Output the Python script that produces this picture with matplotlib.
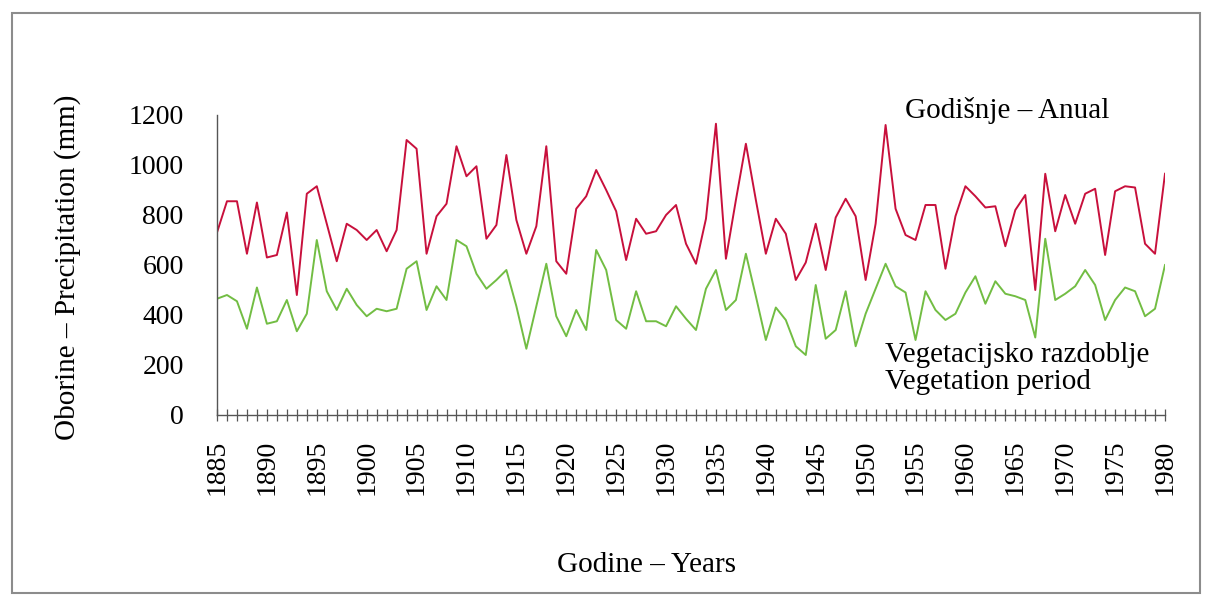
import matplotlib
matplotlib.use("Agg")
import matplotlib.pyplot as plt
from matplotlib.ticker import MultipleLocator, FixedLocator
from matplotlib.patches import Rectangle

plt.rcParams['font.family'] = ['Liberation Serif', 'DejaVu Serif']

years = list(range(1885, 1981))

annual = [730, 855, 855, 645, 850, 630, 640, 810,
          480, 885, 915, 765, 615, 765, 740, 700, 740, 655, 740, 1100,
          1065, 645, 795, 845, 1075, 955, 995, 705, 760, 1040,
          780, 645, 755, 1075, 615, 565, 825, 875,
          980, 900, 815, 620, 785, 725, 735, 800, 840, 685, 605, 785,
          1165, 625, 860, 1085, 860, 645, 785, 725, 540, 610,
          765, 580, 790, 865, 795, 540, 765, 1160, 825, 720, 700, 840,
          840, 585, 795,
          915, 875, 830, 835, 675, 820, 880, 500, 965, 735, 880, 765,
          885, 905, 640, 895, 915, 910, 685, 645, 965]

vegetation = [465, 480, 455, 345, 510, 365, 375, 460,
              335, 405, 700, 495, 420, 505, 440, 395, 425, 415, 425, 585,
              615, 420, 515, 460, 700, 675, 565, 505, 540, 580,
              435, 265, 435, 605, 395, 315, 420, 340,
              660, 580, 380, 345, 495, 375, 375, 355, 435, 385, 340, 505,
              580, 420, 460, 645, 475, 300, 430, 380, 275, 240,
              520, 305, 340, 495, 275, 405, 505, 605, 515, 490, 300, 495,
              420, 380, 405,
              490, 555, 445, 535, 485, 475, 460, 310, 705, 460, 485, 515,
              580, 520, 380, 460, 510, 495, 395, 425, 600]

year_labels = list(range(1885, 1981, 5))
value_ticks = [0, 200, 400, 600, 800, 1000, 1200]

W, H = 1213, 605
fig = plt.figure(figsize=(W / 100, H / 100), dpi=100)
fig.patch.set_facecolor('white')

# outer frame
fig.patches.append(Rectangle((12 / W, 1 - 593 / H), (1200 - 12) / W, (593 - 13) / H,
                             transform=fig.transFigure, fill=False,
                             edgecolor='#8c8c8c', linewidth=1.5))

ax = fig.add_axes([217 / W, 1 - 415 / H, (1165 - 217) / W, 300 / H])
ax.plot(years, annual, color='#c8103c', linewidth=1.4)
ax.plot(years, vegetation, color='#72bd43', linewidth=1.4)

ax.set_xlim(1885, 1980)
ax.set_ylim(0, 1200)

for s in ['top', 'right']:
    ax.spines[s].set_visible(False)
for s in ['left', 'bottom']:
    ax.spines[s].set_color('#555555')
    ax.spines[s].set_linewidth(1.0)

ax.xaxis.set_major_locator(FixedLocator(year_labels))
ax.xaxis.set_minor_locator(MultipleLocator(1))
ax.set_xticklabels([str(y) for y in year_labels], rotation=90, fontsize=20)
ax.tick_params(axis='x', which='both', direction='inout', length=9,
               width=0.9, color='#555555', pad=13)

ax.set_yticks(value_ticks)
ax.set_yticklabels([str(v) for v in value_ticks], fontsize=20)
ax.tick_params(axis='y', length=0, pad=24)

fig.text(646 / W, 1 - 565 / H, 'Godine – Years', ha='center', va='center',
         fontsize=21)
fig.text(68 / W, 1 - 267 / H, 'Oborine – Precipitation (mm)', rotation=90,
         ha='center', va='center', fontsize=21)

fig.text(905 / W, 1 - 110 / H, 'Godišnje – Anual', ha='left', va='center',
         fontsize=21)
fig.text(885 / W, 1 - 355 / H, 'Vegetacijsko razdoblje', ha='left', va='center',
         fontsize=21)
fig.text(885 / W, 1 - 382 / H, 'Vegetation period', ha='left', va='center',
         fontsize=21)

fig.savefig('out.png', dpi=100, facecolor='white')
